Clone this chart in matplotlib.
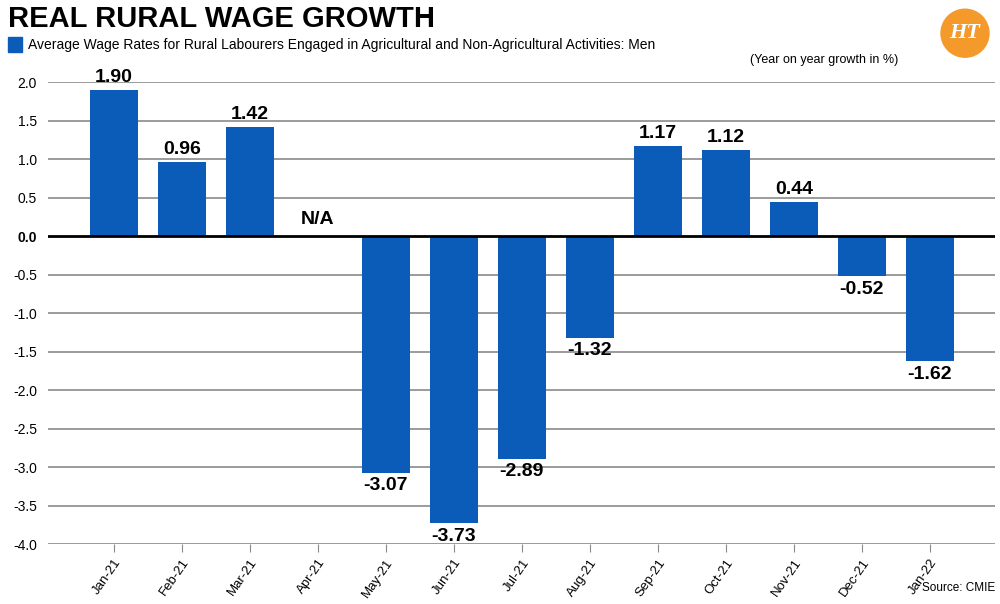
import matplotlib
matplotlib.use("Agg")
import matplotlib.pyplot as plt
from matplotlib.patches import Circle, Rectangle
import numpy as np

plt.rcParams['font.family'] = ['Liberation Sans', 'DejaVu Sans']

months = ["Jan-21","Feb-21","Mar-21","Apr-21","May-21","Jun-21","Jul-21",
          "Aug-21","Sep-21","Oct-21","Nov-21","Dec-21","Jan-22"]
values = [1.90, 0.96, 1.42, np.nan, -3.07, -3.73, -2.89, -1.32, 1.17, 1.12, 0.44, -0.52, -1.62]
labels = ["1.90","0.96","1.42","N/A","-3.07","-3.73","-2.89","-1.32","1.17","1.12","0.44","-0.52","-1.62"]
yticks = [2.0,1.5,1.0,0.5,0.0,-0.5,-1.0,-1.5,-2.0,-2.5,-3.0,-3.5,-4.0]

blue = "#0a5cb8"
fig = plt.figure(figsize=(10, 6.04), dpi=100)
ax = fig.add_axes([0.048, 0.099, 0.947, 0.765])
x = np.arange(len(months))
vals = np.nan_to_num(values)
ax.bar(x, vals, width=0.7, color=blue, zorder=3)
ax.set_xlim(-0.97, 12.96)
ax.set_ylim(-4.0, 2.0)
for y in yticks:
    if y == 0:
        ax.axhline(0, color="black", lw=2, zorder=4)
    else:
        ax.axhline(y, color="#8a8a8a", lw=1.2, zorder=1)
ax.set_yticks(yticks)
ax.set_yticklabels([f"{t:.1f}" for t in yticks], fontsize=10)
for lbl, t in zip(ax.get_yticklabels(), yticks):
    if t == 0:
        lbl.set_fontweight('bold')
ax.tick_params(axis='y', length=0, pad=8)
ax.set_xticks(x)
ax.set_xticklabels(months, rotation=55, ha='right', rotation_mode='anchor', fontsize=9.5)
ax.tick_params(axis='x', length=6, color="#8a8a8a", direction='out', pad=3)
for s in ax.spines.values():
    s.set_visible(False)
for xi, v, lab in zip(x, values, labels):
    if np.isnan(v):
        ax.text(xi, 0.1, lab, ha='center', va='bottom', fontsize=14, fontweight='bold')
    elif v >= 0:
        ax.text(xi, v + 0.05, lab, ha='center', va='bottom', fontsize=14, fontweight='bold')
    else:
        ax.text(xi, v - 0.06, lab, ha='center', va='top', fontsize=14, fontweight='bold')

fig.text(0.008, 0.968, "REAL RURAL WAGE GROWTH", fontsize=21, fontweight='bold', va='center')
fig.patches.append(Rectangle((0.008, 0.914), 0.014, 0.024, transform=fig.transFigure, color=blue))
fig.text(0.028, 0.926, "Average Wage Rates for Rural Labourers Engaged in Agricultural and Non-Agricultural Activities: Men",
         fontsize=10, va='center')
fig.text(0.898, 0.900, "(Year on year growth in %)", fontsize=9, ha='right', va='center')
fig.text(0.995, 0.026, "Source: CMIE", fontsize=8.5, ha='right', va='center')
logo = Circle((0.965 * 10, 0.945 * 6.04), 0.24, transform=fig.dpi_scale_trans, color="#f39a2b")
fig.patches.append(logo)
fig.text(0.965, 0.945, "HT", fontsize=16, color="white", fontweight='bold', style='italic',
         ha='center', va='center', family='Liberation Serif')
fig.savefig("out.png", dpi=100)
